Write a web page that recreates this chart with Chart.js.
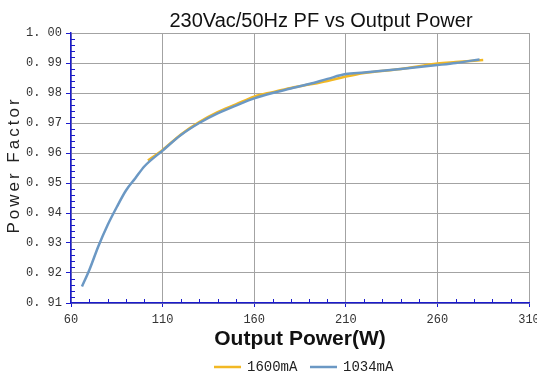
<!DOCTYPE html>
<html>
<head>
<meta charset="utf-8">
<script src="https://cdn.jsdelivr.net/npm/chart.js@4.4.1/dist/chart.umd.min.js"></script>
<style>
  html, body { margin: 0; padding: 0; background: #fff; }
</style>
</head>
<body>
<canvas id="pf" width="537" height="378"></canvas>
<script>
// values
const power1600 = [102, 110, 120, 130, 140, 150, 160, 170, 180, 190, 200, 210, 220, 240, 260, 270, 285];
const pf1600 = [0.9575, 0.9610, 0.9662, 0.9703, 0.9736, 0.9762, 0.9788, 0.9803, 0.9817, 0.9828, 0.9840, 0.9855, 0.9867, 0.9880, 0.9898, 0.9903, 0.9910];

const power1034 = [66, 70, 75, 80, 85, 90, 95, 100, 110, 120, 130, 140, 150, 160, 170, 180, 190, 200, 210, 220, 240, 260, 270, 283];
const pf1034 = [0.9155, 0.9210, 0.9290, 0.9360, 0.9420, 0.9475, 0.9515, 0.9555, 0.9608, 0.9660, 0.9700, 0.9732, 0.9758, 0.9782, 0.9800, 0.9815, 0.9830, 0.9847, 0.9863, 0.9868, 0.9880, 0.9893, 0.9900, 0.9912];

const seriesNames = ['1600mA', '1034mA'];
const xTicks = [60, 110, 160, 210, 260, 310];
const yTicks = [0.91, 0.92, 0.93, 0.94, 0.95, 0.96, 0.97, 0.98, 0.99, 1.00];
const yTickLabels = ['0. 91', '0. 92', '0. 93', '0. 94', '0. 95', '0. 96', '0. 97', '0. 98', '0. 99', '1. 00'];

const chartTitle = '230Vac/50Hz PF vs Output Power';
const xTitle = 'Output Power(W)';
const yTitle = 'Power Factor';

const yellow = '#f2b824';
const blue = '#6b98c4';
const axisBlue = '#1a1acc';
const gridGrey = '#a3a3a3';

function points(xs, ys) {
  return xs.map((v, i) => ({ x: v, y: ys[i] }));
}

const extras = {
  id: 'extras',
  afterDraw(chart) {
    const { ctx, chartArea: a, scales: { x, y } } = chart;
    ctx.save();

    // minor ticks on the blue axes
    ctx.strokeStyle = axisBlue;
    ctx.lineWidth = 1;
    ctx.beginPath();
    for (let i = 1; i < 45; i++) {
      if (i % 5 === 0) continue;
      const py = Math.round(y.getPixelForValue(0.91 + i * 0.002)) + 0.5;
      ctx.moveTo(a.left, py);
      ctx.lineTo(a.left + 4, py);
    }
    for (let v = 70; v < 310; v += 10) {
      if ((v - 60) % 50 === 0) continue;
      const px = Math.round(x.getPixelForValue(v)) + 0.5;
      ctx.moveTo(px, a.bottom);
      ctx.lineTo(px, a.bottom - 4);
    }
    ctx.stroke();

    // title
    ctx.fillStyle = '#111';
    ctx.font = '20px "Liberation Sans", Arial, sans-serif';
    ctx.textAlign = 'center';
    ctx.textBaseline = 'alphabetic';
    ctx.fillText(chartTitle, 321, 27);

    // y axis title, spaced out like the original
    ctx.save();
    ctx.translate(19, 165);
    ctx.rotate(-Math.PI / 2);
    ctx.font = '17px "Liberation Sans", Arial, sans-serif';
    ctx.fillStyle = '#222';
    ctx.letterSpacing = '3px';
    ctx.fillText(yTitle, 0, 0);
    ctx.restore();

    // legend
    const legendY = 367;
    const items = [
      { name: seriesNames[0], color: yellow, x0: 214 },
      { name: seriesNames[1], color: blue, x0: 310 }
    ];
    ctx.font = '14px "Liberation Mono", monospace';
    ctx.textAlign = 'left';
    ctx.textBaseline = 'middle';
    items.forEach(it => {
      ctx.strokeStyle = it.color;
      ctx.lineWidth = 2.5;
      ctx.beginPath();
      ctx.moveTo(it.x0, legendY);
      ctx.lineTo(it.x0 + 27, legendY);
      ctx.stroke();
      ctx.fillStyle = '#222';
      ctx.fillText(it.name, it.x0 + 33, legendY);
    });

    ctx.restore();
  }
};

new Chart(document.getElementById('pf'), {
  type: 'line',
  data: {
    datasets: [
      {
        label: seriesNames[0],
        data: points(power1600, pf1600),
        borderColor: yellow,
        backgroundColor: yellow,
        borderWidth: 2.5,
        pointRadius: 0,
        cubicInterpolationMode: 'monotone',
        order: 2
      },
      {
        label: seriesNames[1],
        data: points(power1034, pf1034),
        borderColor: blue,
        backgroundColor: blue,
        borderWidth: 2.5,
        pointRadius: 0,
        cubicInterpolationMode: 'monotone',
        order: 1
      }
    ]
  },
  options: {
    responsive: false,
    animation: false,
    devicePixelRatio: 1,
    layout: { padding: { top: 33, right: 8, bottom: 0, left: 0 } },
    plugins: {
      legend: { display: false },
      title: { display: false },
      tooltip: { enabled: false }
    },
    scales: {
      x: {
        type: 'linear',
        min: 60,
        max: 310,
        afterBuildTicks: s => { s.ticks = xTicks.map(v => ({ value: v })); },
        afterFit: s => { s.height = 75; s.paddingLeft = 0; s.paddingRight = 0; },
        ticks: {
          autoSkip: false,
          maxRotation: 0,
          padding: 6,
          color: '#333',
          font: { family: '"Liberation Mono", monospace', size: 12 }
        },
        grid: { color: gridGrey, tickColor: axisBlue, tickLength: 4 },
        border: { color: axisBlue, width: 1.5 },
        title: {
          display: true,
          text: xTitle,
          color: '#111',
          font: { family: '"Liberation Sans", Arial, sans-serif', size: 21, weight: 'bold' },
          padding: { top: 0, bottom: 26 }
        }
      },
      y: {
        min: 0.91,
        max: 1.0,
        afterBuildTicks: s => { s.ticks = yTicks.map(v => ({ value: v })); },
        afterFit: s => { s.width = 71; s.paddingTop = 0; s.paddingBottom = 0; },
        ticks: {
          autoSkip: false,
          padding: 4,
          color: '#333',
          font: { family: '"Liberation Mono", monospace', size: 12 },
          callback: (v, i) => yTickLabels[i]
        },
        grid: { color: gridGrey, tickColor: axisBlue, tickLength: 5 },
        border: { color: axisBlue, width: 1.5 }
      }
    }
  },
  plugins: [extras]
});
</script>
</body>
</html>
